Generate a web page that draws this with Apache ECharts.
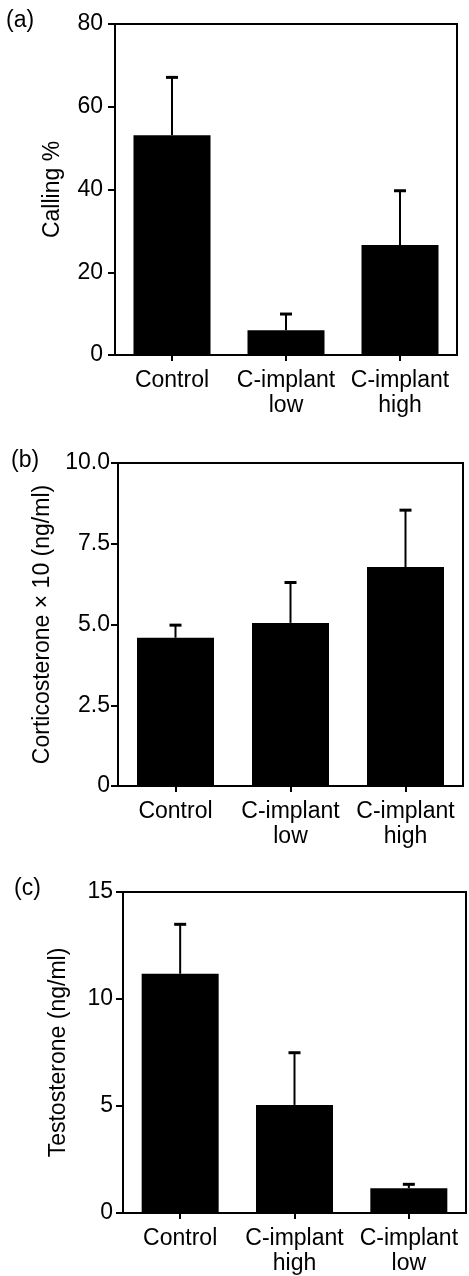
<!DOCTYPE html>
<html>
<head>
<meta charset="utf-8">
<script src="https://cdn.jsdelivr.net/npm/echarts@6/dist/echarts.min.js"></script>
<style>
html,body{margin:0;padding:0;background:#fff;}
#main{width:469px;height:1276px;}
</style>
</head>
<body>
<div id="main"></div>
<script>
// Panel (a): Calling %
const catsA = ['Control', 'C-implant\nlow', 'C-implant\nhigh'];
const meanA = [53.1, 6.0, 26.6];
const errA = [14.0, 3.9, 13.1];
const ticksA = { min: 0, max: 80, interval: 20 };

// Panel (b): Corticosterone x 10 (ng/ml)
const catsB = ['Control', 'C-implant\nlow', 'C-implant\nhigh'];
const meanB = [4.59, 5.05, 6.78];
const errB = [0.39, 1.25, 1.76];
const ticksB = { min: 0, max: 10, interval: 2.5 };

// Panel (c): Testosterone (ng/ml)
const catsC = ['Control', 'C-implant\nhigh', 'C-implant\nlow'];
const meanC = [11.18, 5.05, 1.16];
const errC = [2.31, 2.44, 0.18];
const ticksC = { min: 0, max: 15, interval: 5 };

const panelLabels = ['(a)', '(b)', '(c)'];
const axisNames = ['Calling %', 'Corticosterone \u00d7 10 (ng/ml)', 'Testosterone (ng/ml)'];

const FONT = 'Liberation Sans, Arial, Helvetica, sans-serif';
const FS = 23;

const grids = [
  { left: 115, top: 24, width: 342, height: 331 },
  { left: 118, top: 463, width: 345, height: 323 },
  { left: 123, top: 892, width: 343, height: 324 }
];
const titlePos = [ {left: 6, top: 9}, {left: 11, top: 449}, {left: 14, top: 877} ];
const nameGaps = [51, 49, 53];
const labelMargins = [12, 8, 10];

const cats = [catsA, catsB, catsC];
const means = [meanA, meanB, meanC];
const errs = [errA, errB, errC];
const ticks = [ticksA, ticksB, ticksC];

function labelFmt(i) {
  return function (v) {
    if (i === 1) return v === 0 ? '0' : v.toFixed(1);
    return String(v);
  };
}

const option = {
  backgroundColor: '#fff',
  animation: false,
  title: panelLabels.map((t, i) => ({
    text: t, left: titlePos[i].left, top: titlePos[i].top, padding: 0,
    textStyle: { fontFamily: FONT, fontSize: FS, fontWeight: 'normal', color: '#000' }
  })),
  grid: grids.map(g => Object.assign({ show: true, borderColor: '#000', borderWidth: 2, backgroundColor: 'transparent' }, g)),
  xAxis: cats.map((c, i) => ({
    type: 'category', gridIndex: i, data: c,
    axisLine: { show: true, lineStyle: { color: '#000', width: 2 } },
    axisTick: { show: true, alignWithLabel: true, length: 6, lineStyle: { color: '#000', width: 2 } },
    axisLabel: { color: '#000', fontFamily: FONT, fontSize: FS, margin: 13, lineHeight: 25, interval: 0 },
    splitLine: { show: false }
  })),
  yAxis: ticks.map((t, i) => ({
    type: 'value', gridIndex: i, min: t.min, max: t.max, interval: t.interval,
    name: axisNames[i], nameLocation: 'middle', nameGap: nameGaps[i], nameRotate: 90,
    nameTextStyle: { color: '#000', fontFamily: FONT, fontSize: FS },
    axisLine: { show: true, lineStyle: { color: '#000', width: 2 } },
    axisTick: { show: true, length: 7, lineStyle: { color: '#000', width: 2 } },
    axisLabel: { color: '#000', fontFamily: FONT, fontSize: FS, margin: labelMargins[i], formatter: labelFmt(i) },
    splitLine: { show: false }
  })),
  series: []
};

for (let i = 0; i < 3; i++) {
  option.series.push({
    type: 'bar', xAxisIndex: i, yAxisIndex: i, data: means[i],
    barWidth: 77, itemStyle: { color: '#000' }, z: 2
  });
  const errData = means[i].map((m, k) => [k, m, m + errs[i][k]]);
  option.series.push({
    type: 'custom', xAxisIndex: i, yAxisIndex: i, data: errData, z: 3,
    encode: { x: 0, y: [1, 2] },
    renderItem: function (params, api) {
      const x = api.value(0);
      const lo = api.coord([x, api.value(1)]);
      const hi = api.coord([x, api.value(2)]);
      const half = 6;
      return {
        type: 'group',
        children: [
          { type: 'line', shape: { x1: lo[0], y1: lo[1], x2: hi[0], y2: hi[1] }, style: { stroke: '#000', lineWidth: 2 } },
          { type: 'line', shape: { x1: hi[0] - half, y1: hi[1], x2: hi[0] + half, y2: hi[1] }, style: { stroke: '#000', lineWidth: 3 } }
        ]
      };
    }
  });
}

const chart = echarts.init(document.getElementById('main'), null, { renderer: 'canvas' });
chart.setOption(option);
</script>
</body>
</html>
